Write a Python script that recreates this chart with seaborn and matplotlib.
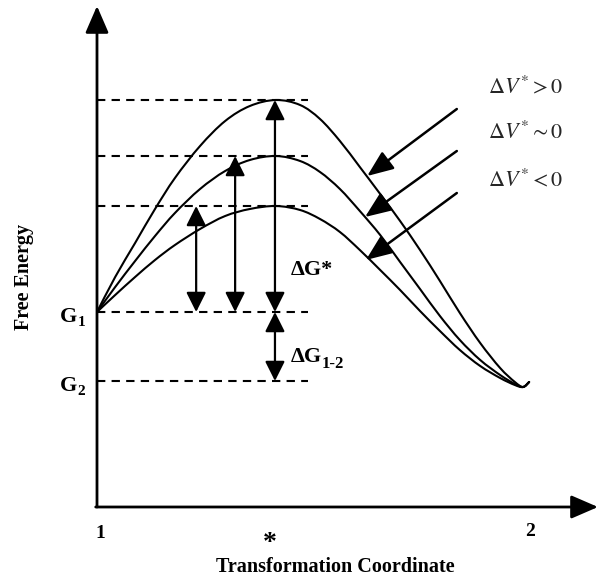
import numpy as np
import pandas as pd
import matplotlib
matplotlib.use("Agg")
import matplotlib.pyplot as plt
from matplotlib.path import Path
from matplotlib.patches import PathPatch
import seaborn as sns

# Transformation coordinate (state 1 at 0, state 2 at 1)
coord = [0.0, 0.042, 0.088, 0.134, 0.180, 0.238, 0.296, 0.353, 0.413, 0.469, 0.515,
         0.561, 0.607, 0.654, 0.700, 0.746, 0.792, 0.838, 0.885, 0.931, 0.965, 0.984, 0.998]

# Free energy profiles for positive, near-zero and negative activation volume
energy_pos = [1.95, 2.30, 2.64, 2.98, 3.29, 3.61, 3.86, 4.01, 4.07, 4.02, 3.88,
              3.66, 3.40, 3.13, 2.86, 2.57, 2.26, 1.94, 1.64, 1.39, 1.25, 1.20, 1.25]
energy_zero = [1.95, 2.20, 2.46, 2.71, 2.94, 3.18, 3.36, 3.47, 3.51, 3.46, 3.35,
               3.18, 2.96, 2.72, 2.45, 2.18, 1.91, 1.67, 1.47, 1.32, 1.23, 1.20, 1.25]
energy_neg = [1.95, 2.12, 2.30, 2.47, 2.62, 2.78, 2.91, 2.98, 3.01, 2.97, 2.88,
              2.75, 2.57, 2.37, 2.17, 1.96, 1.76, 1.57, 1.41, 1.29, 1.22, 1.20, 1.25]

# Energy levels: barrier tops, initial state G1, final state G2
barrier_tops = [4.07, 3.51, 3.01]
g1 = 1.95
g2 = 1.26
level_extent = 0.487
barrier_arrow_x = [0.411, 0.319, 0.229]   # pairs with barrier_tops
transition_x = 0.40
state1_x, state2_x = 0.0, 1.0

volume_labels = [r"$\Delta V^{*} > 0$", r"$\Delta V^{*} \sim 0$", r"$\Delta V^{*} < 0$"]
volume_label_y = [4.20, 3.74, 3.27]
label_tail = [(0.831, 3.98), (0.831, 3.56), (0.831, 3.14)]
label_tip = [(0.624, 3.31), (0.619, 2.90), (0.621, 2.47)]

sns.set_theme(style="white")
plt.rcParams["font.family"] = ["Liberation Serif", "DejaVu Serif"]
plt.rcParams["mathtext.fontset"] = "stix"

fig = plt.figure(figsize=(6.01, 5.79), dpi=100)
ax = fig.add_axes([97 / 601, 72 / 579, 504 / 601, 507 / 579])
ax.set_xlim(0, 504 / 433)
ax.set_ylim(0, 5.07)
ax.axis("off")


def smooth_path(xs, ys):
    """Catmull-Rom through the points, expressed as cubic Bezier segments."""
    P = np.column_stack([xs, ys])
    verts = [P[0]]
    codes = [Path.MOVETO]
    n = len(P)
    for i in range(n - 1):
        p0 = P[i - 1] if i > 0 else P[i]
        p1, p2 = P[i], P[i + 1]
        p3 = P[i + 2] if i + 2 < n else P[i + 1]
        verts += [p1 + (p2 - p0) / 6, p2 - (p3 - p1) / 6, p2]
        codes += [Path.CURVE4] * 3
    return Path(verts, codes)


for ys in (energy_pos, energy_zero, energy_neg):
    ax.add_patch(PathPatch(smooth_path(coord, ys), facecolor="none",
                           edgecolor="black", lw=1.5, capstyle="round"))

# Dashed energy levels
levels = barrier_tops + [g1, g2]
df = pd.DataFrame({
    "X": [0.0, level_extent] * len(levels),
    "E": [v for v in levels for _ in range(2)],
    "level": [i for i in range(len(levels)) for _ in range(2)],
})
sns.lineplot(data=df, x="X", y="E", units="level", estimator=None, color="black",
             lw=1.5, linestyle=(0, (4, 3)), ax=ax, legend=False)

dbl = dict(arrowstyle="<|-|>,head_length=1.2,head_width=0.6", color="black",
           lw=1.6, mutation_scale=10, shrinkA=0, shrinkB=0)
for x, top in zip(barrier_arrow_x, barrier_tops):
    ax.annotate("", xy=(x, top), xytext=(x, g1), arrowprops=dbl)
ax.annotate("", xy=(barrier_arrow_x[0], g2), xytext=(barrier_arrow_x[0], g1), arrowprops=dbl)

single = dict(arrowstyle="-|>,head_length=1.6,head_width=0.65", color="black",
              lw=1.8, mutation_scale=10, shrinkA=0, shrinkB=0)
for tail, tip, lab, ly in zip(label_tail, label_tip, volume_labels, volume_label_y):
    ax.annotate("", xy=tip, xytext=tail, arrowprops=single)
    ax.text(0.903, ly, lab, fontsize=16, ha="left", va="center")

# Axes with arrow heads
axis_style = dict(arrowstyle="-|>,head_length=1.5,head_width=0.65", color="black",
                  lw=2.0, mutation_scale=11, shrinkA=0, shrinkB=0)
ax.annotate("", xy=(0, 5.01), xytext=(0, 0), arrowprops=axis_style, annotation_clip=False)
ax.annotate("", xy=(1.157, 0), xytext=(-0.003, 0), arrowprops=axis_style, annotation_clip=False)

bold = dict(fontweight="bold", color="black")
ax.text(0.447, 2.37, "ΔG*", fontsize=16, ha="left", va="center", **bold)
ax.text(0.447, 1.50, "ΔG", fontsize=16, ha="left", va="center", **bold)
ax.annotate("1-2", (0.447, 1.50), xytext=(22.5, -5), textcoords="offset points",
            fontsize=12, ha="left", va="center", annotation_clip=False, **bold)

for level, sub in [(g1, "1"), (g2, "2")]:
    ax.text(-0.047, level - 0.05, "G", fontsize=16, ha="right", va="center", **bold)
    ax.annotate(sub, (-0.047, level - 0.05), xytext=(0.5, -4), textcoords="offset points",
                fontsize=11, ha="left", va="center", annotation_clip=False, **bold)

ax.text(state1_x + 0.007, -0.26, "1", fontsize=14, ha="center", va="center", **bold)
ax.text(state2_x, -0.24, "2", fontsize=14, ha="center", va="center", **bold)
ax.text(transition_x, -0.36, "*", fontsize=20, ha="center", va="center", **bold)
ax.text(0.55, -0.60, "Transformation Coordinate", fontsize=14.5, ha="center",
        va="center", **bold)
ax.text(-0.169, 2.30, "Free Energy", fontsize=14.5, rotation=90, ha="center",
        va="center", **bold)

fig.savefig("out.png", dpi=100, facecolor="white")
